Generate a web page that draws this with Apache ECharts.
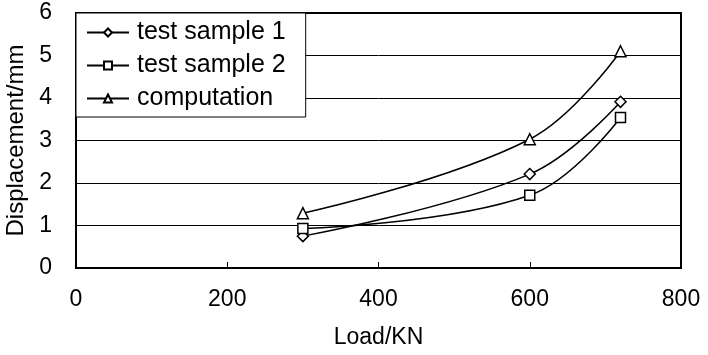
<!DOCTYPE html>
<html><head><meta charset="utf-8">
<script src="https://cdn.jsdelivr.net/npm/echarts@6/dist/echarts.min.js"></script>
<style>html,body{margin:0;padding:0;background:#fff}#c{width:708px;height:355px}</style>
</head><body><div id="c"></div>
<script>
var loads = [300, 600, 720];
var sample1 = [0.75, 2.21, 3.91];
var sample2 = [0.93, 1.71, 3.54];
var computation = [1.29, 3.03, 5.1];
var seriesNames = ['test sample 1', 'test sample 2', 'computation'];
var symbols = ['diamond', 'rect', 'triangle'];
var allData = [sample1, sample2, computation];

var font = 'Liberation Sans, Arial, sans-serif';
var chart = echarts.init(document.getElementById('c'));
chart.setOption({
  animation: false,
  backgroundColor: '#fff',
  grid: {left: 76, right: 27, top: 13, bottom: 87, show: true, borderColor: '#000', borderWidth: 2,
         containLabel: false, outerBoundsMode: 'none'},
  xAxis: {
    type: 'value', min: 0, max: 800, interval: 200,
    name: 'Load/KN', nameLocation: 'middle', nameGap: 58,
    nameTextStyle: {fontFamily: font, fontSize: 23, color: '#000'},
    axisLine: {lineStyle: {color: '#000', width: 2}},
    axisTick: {inside: true, length: 6, lineStyle: {color: '#000'}},
    axisLabel: {fontFamily: font, fontSize: 23, color: '#000', margin: 20},
    splitLine: {show: false}
  },
  yAxis: {
    type: 'value', min: 0, max: 6, interval: 1,
    name: 'Displacement/mm', nameLocation: 'middle', nameGap: 41,
    nameTextStyle: {fontFamily: font, fontSize: 24, color: '#000'},
    axisLine: {show: true, lineStyle: {color: '#000', width: 2}},
    axisTick: {show: false},
    axisLabel: {fontFamily: font, fontSize: 23, color: '#000', margin: 24},
    splitLine: {show: true, lineStyle: {color: '#000', width: 1}}
  },
  legend: {
    orient: 'vertical', left: 76, top: 13,
    backgroundColor: '#fff', borderColor: '#000', borderWidth: 1,
    padding: [7, 20, 6, 10], itemGap: 8, itemWidth: 42, itemHeight: 10,
    textStyle: {fontFamily: font, fontSize: 25, color: '#000', padding: [0, 0, 0, 3]},
    data: seriesNames
  },
  series: seriesNames.map(function (n, i) {
    return {
      name: n, type: 'line', smooth: 0.4,
      data: loads.map(function (x, j) { return [x, allData[i][j]]; }),
      symbol: symbols[i], symbolSize: i === 1 ? 10 : 11,
      lineStyle: {color: '#000', width: 1.5},
      itemStyle: {color: '#fff', borderColor: '#000', borderWidth: 1.5},
      z: 3
    };
  })
});
</script></body></html>
